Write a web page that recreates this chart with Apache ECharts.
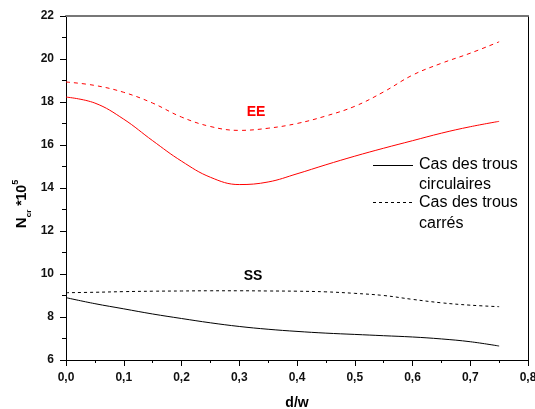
<!DOCTYPE html>
<html>
<head>
<meta charset="utf-8">
<script src="https://cdn.jsdelivr.net/npm/echarts@6/dist/echarts.min.js"></script>
<style>html,body{margin:0;padding:0;background:#fff}#c{width:535px;height:409px}</style>
</head>
<body>
<div id="c"></div>
<script>
var xValues = [0, 0.05, 0.1, 0.15, 0.2, 0.25, 0.3, 0.35, 0.4, 0.45, 0.5, 0.55, 0.6, 0.65, 0.7, 0.75];
var eeCirc = [18.23, 17.95, 17.2, 16.2, 15.25, 14.5, 14.16, 14.28, 14.66, 15.08, 15.48, 15.85, 16.2, 16.55, 16.85, 17.1];
var eeCarre = [18.93, 18.77, 18.45, 17.95, 17.3, 16.86, 16.68, 16.78, 17.0, 17.35, 17.8, 18.47, 19.25, 19.8, 20.27, 20.8];
var ssCirc = [8.9, 8.62, 8.38, 8.14, 7.93, 7.73, 7.56, 7.43, 7.33, 7.25, 7.19, 7.13, 7.07, 6.98, 6.85, 6.65];
var ssCarre = [9.13, 9.15, 9.18, 9.2, 9.21, 9.22, 9.22, 9.21, 9.2, 9.17, 9.1, 9.0, 8.82, 8.66, 8.55, 8.48];
var legendNames = ['Cas des trous\ncirculaires', 'Cas des trous\ncarrés'];
var xTitle = 'd/w';

function pairs(ys){ return xValues.map(function(x,i){ return [x, ys[i]]; }); }

var chart = echarts.init(document.getElementById('c'), null, {renderer:'canvas'});
var labelStyle = {color:'#111', fontFamily:'Arial, Liberation Sans, sans-serif', fontWeight:'bold', fontSize:12};
chart.setOption({
  animation:false,
  grid:{left:66, right:7, top:16, bottom:49, containLabel:false, outerBoundsMode:'none'},
  xAxis:[{
    type:'value', min:0, max:0.8, interval:0.1,
    axisLine:{show:true, onZero:false, lineStyle:{color:'#000', width:1}},
    axisTick:{show:true, inside:false, length:6, lineStyle:{color:'#000'}},
    minorTick:{show:true, splitNumber:2, length:3, lineStyle:{color:'#000'}},
    splitLine:{show:false},
    axisLabel:Object.assign({margin:12, formatter:function(v){return v.toFixed(1).replace('.', ',');}}, labelStyle),
    name:xTitle, nameLocation:'middle', nameGap:36,
    nameTextStyle:{color:'#000', fontFamily:'Arial, Liberation Sans, sans-serif', fontWeight:'bold', fontSize:14}
  },{
    type:'value', position:'top', min:0, max:0.8,
    axisLine:{show:true, onZero:false, lineStyle:{color:'#777', width:2}},
    axisTick:{show:false}, axisLabel:{show:false}, splitLine:{show:false}
  }],
  yAxis:[{
    type:'value', min:6, max:22, interval:2,
    axisLine:{show:true, onZero:false, lineStyle:{color:'#000', width:1}},
    axisTick:{show:true, inside:false, length:6, lineStyle:{color:'#000'}},
    minorTick:{show:true, splitNumber:2, length:4, lineStyle:{color:'#000'}},
    splitLine:{show:false},
    axisLabel:Object.assign({margin:12}, labelStyle)
  },{
    type:'value', position:'right', min:6, max:22,
    axisLine:{show:true, onZero:false, lineStyle:{color:'#000', width:1}},
    axisTick:{show:false}, axisLabel:{show:false}, splitLine:{show:false}
  }],
  series:[
    {name:'EE circ', type:'line', smooth:0.4, symbol:'none', data:pairs(eeCirc), lineStyle:{color:'#ff0000', width:1}},
    {name:'EE carre', type:'line', smooth:0.4, symbol:'none', data:pairs(eeCarre), lineStyle:{color:'#ff0000', width:1, type:[4,4]}},
    {name:legendNames[0], type:'line', smooth:0.4, symbol:'none', data:pairs(ssCirc), lineStyle:{color:'#000', width:1}},
    {name:legendNames[1], type:'line', smooth:0.4, symbol:'none', data:pairs(ssCarre), lineStyle:{color:'#000', width:1, type:[3,3]}}
  ],
  graphic:[
    {type:'line', shape:{x1:373, y1:165.5, x2:413, y2:165.5}, style:{stroke:'#000', lineWidth:1}},
    {type:'text', x:419, y:165, style:{text:'Cas des trous', fill:'#000', font:'16px Arial, "Liberation Sans", sans-serif', textVerticalAlign:'middle'}},
    {type:'text', x:419, y:185, style:{text:'circulaires', fill:'#000', font:'16px Arial, "Liberation Sans", sans-serif', textVerticalAlign:'middle'}},
    {type:'line', shape:{x1:373, y1:202.5, x2:413, y2:202.5}, style:{stroke:'#000', lineWidth:1, lineDash:[3,3]}},
    {type:'text', x:419, y:203, style:{text:'Cas des trous', fill:'#000', font:'16px Arial, "Liberation Sans", sans-serif', textVerticalAlign:'middle'}},
    {type:'text', x:419, y:224, style:{text:'carrés', fill:'#000', font:'16px Arial, "Liberation Sans", sans-serif', textVerticalAlign:'middle'}},
    {type:'text', x:256, y:112, style:{text:'EE', fill:'#ff0000', font:'bold 14px Arial, "Liberation Sans", sans-serif', textAlign:'center', textVerticalAlign:'middle'}},
    {type:'text', x:253, y:276, style:{text:'SS', fill:'#000', font:'bold 14px Arial, "Liberation Sans", sans-serif', textAlign:'center', textVerticalAlign:'middle'}},
    {type:'text', x:22, y:204, rotation:Math.PI/2, style:{
      text:'{n|N}{s|cr}{m| *10}{p|5}', textAlign:'center', textVerticalAlign:'middle',
      rich:{
        n:{fontFamily:'Arial, Liberation Sans, sans-serif', fontWeight:'bold', fontSize:15, color:'#000', lineHeight:22, verticalAlign:'middle'},
        s:{fontFamily:'Arial, Liberation Sans, sans-serif', fontWeight:'bold', fontSize:8, color:'#000', lineHeight:22, verticalAlign:'bottom'},
        m:{fontFamily:'Arial, Liberation Sans, sans-serif', fontWeight:'bold', fontSize:14, color:'#000', lineHeight:22, verticalAlign:'middle'},
        p:{fontFamily:'Arial, Liberation Sans, sans-serif', fontWeight:'bold', fontSize:9, color:'#000', lineHeight:22, verticalAlign:'top'}
      }
    }}
  ]
});
</script>
</body>
</html>
